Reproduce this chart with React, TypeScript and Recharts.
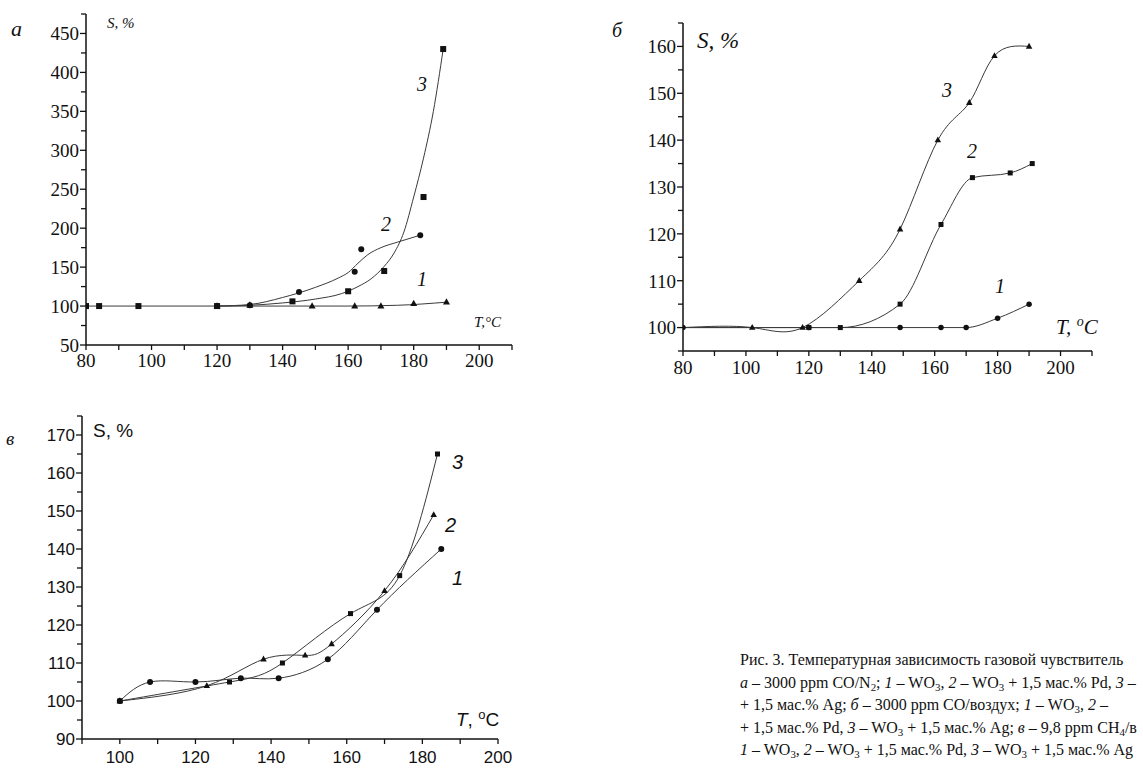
import React from "react";
import { ComposedChart, Line, XAxis, YAxis } from "recharts";

type P = [number, number];

// panel а: 3000 ppm CO/N2
const aTriangles: P[] = [[120, 100], [130, 101], [149, 100], [162, 100], [170, 100], [180, 103], [190, 105]];
const aCircles: P[] = [[120, 100], [130, 101], [145, 118], [162, 144], [164, 173], [182, 191]];
const aSquares: P[] = [[80, 100], [84, 100], [96, 100], [120, 100], [143, 106], [160, 119], [171, 145], [183, 240], [189, 430]];
const aFit1: P[] = [[80, 100], [160, 100], [175, 101], [190, 105]];
const aFit2: P[] = [[120, 100], [130, 102], [140, 111], [150, 124], [157, 136], [160, 143], [163, 155], [166, 166], [170, 175], [175, 182], [182, 191]];
const aFit3: P[] = [[120, 100], [130, 101], [140, 104], [150, 109], [158, 116], [163, 125], [167, 135], [171, 151], [174, 168], [177, 195], [180, 240], [183, 290], [186, 350], [189, 430]];

// panel б: 3000 ppm CO/воздух
const bCircles: P[] = [[80, 100], [120, 100], [149, 100], [162, 100], [170, 100], [180, 102], [190, 105]];
const bSquares: P[] = [[120, 100], [130, 100], [149, 105], [162, 122], [172, 132], [184, 133], [191, 135]];
const bTriangles: P[] = [[102, 100], [118, 100], [136, 110], [149, 121], [161, 140], [171, 148], [179, 158], [190, 160]];
const bStart: P = [80, 100];

// panel в: 9,8 ppm CH4/воздух
const cCircles: P[] = [[100, 100], [108, 105], [120, 105], [132, 106], [142, 106], [155, 111], [168, 124], [185, 140]];
const cTriangles: P[] = [[100, 100], [123, 104], [138, 111], [149, 112], [156, 115], [170, 129], [183, 149]];
const cSquares: P[] = [[100, 100], [129, 105], [143, 110], [161, 123], [174, 133], [184, 165]];

// ticks
const abXMajor = [80, 100, 120, 140, 160, 180, 200];
const abXMinor = [90, 110, 130, 150, 170, 190, 210];
const aYMajor = [50, 100, 150, 200, 250, 300, 350, 400, 450];
const aYMinor = [75, 125, 175, 225, 275, 325, 375, 425, 475];
const bYMajor = [100, 110, 120, 130, 140, 150, 160];
const bYMinor = [95, 105, 115, 125, 135, 145, 155, 165];
const cXMajor = [100, 120, 140, 160, 180, 200];
const cXMinor = [90, 110, 130, 150, 170, 190];
const cYMajor = [90, 100, 110, 120, 130, 140, 150, 160, 170];
const cYMinor = [95, 105, 115, 125, 135, 145, 155, 165, 175];

const SERIF = "Liberation Serif, Times New Roman, serif";
const SANS = "Liberation Sans, Arial, sans-serif";
const INK = "#111";
const CURVE = "#3a3a3a";

const rows = (pts: P[]) => pts.map(([x, y]) => ({ x, y }));

type Shape = "square" | "circle" | "triangle";

const marker = (shape: Shape, s: number) => (p: any) => {
  const { cx, cy, index } = p;
  if (cx == null || cy == null) return <g key={index} />;
  if (shape === "square")
    return <rect key={index} x={cx - s / 2} y={cy - s / 2} width={s} height={s} fill={INK} />;
  if (shape === "circle") return <circle key={index} cx={cx} cy={cy} r={s / 2} fill={INK} />;
  const h = s * 0.9;
  return (
    <polygon
      key={index}
      points={`${cx},${cy - h * 0.62} ${cx - s / 2},${cy + h * 0.38} ${cx + s / 2},${cy + h * 0.38}`}
      fill={INK}
    />
  );
};

const yTick = (majors: number[], font: string, size: number) => (p: any) => {
  const { x, y, payload } = p;
  const major = majors.includes(payload.value);
  return (
    <g>
      <line x1={x - (major ? 6 : 5)} x2={x} y1={y} y2={y} stroke={INK} strokeWidth={1.3} />
      {major && (
        <text
          x={x - 7}
          y={y}
          dy="0.36em"
          textAnchor="end"
          fill={INK}
          style={{ fontFamily: font, fontSize: size }}
        >
          {payload.value}
        </text>
      )}
    </g>
  );
};

const xTick = (majors: number[], font: string, size: number, off: number) => (p: any) => {
  const { x, y, payload } = p;
  const major = majors.includes(payload.value);
  return (
    <g>
      <line x1={x} x2={x} y1={y} y2={y + 5} stroke={INK} strokeWidth={1.3} />
      {major && (
        <text x={x} y={y + off} textAnchor="middle" fill={INK} style={{ fontFamily: font, fontSize: size }}>
          {payload.value}
        </text>
      )}
    </g>
  );
};

type Panel = {
  left: number;
  top: number;
  width: number;
  height: number;
  margin: { top: number; right: number; bottom: number; left: number };
  xDomain: [number, number];
  yDomain: [number, number];
  xMajor: number[];
  xMinor: number[];
  yMajor: number[];
  yMinor: number[];
  face: string;
  size: number;
  xOff: number;
  children: React.ReactNode;
};

function Frame(p: Panel) {
  const xt = [...p.xMajor, ...p.xMinor].sort((a, b) => a - b);
  const yt = [...p.yMajor, ...p.yMinor].sort((a, b) => a - b);
  return (
    <div style={{ position: "absolute", left: p.left, top: p.top, fontFamily: p.face }}>
      <ComposedChart width={p.width} height={p.height} margin={p.margin} style={{ fontFamily: p.face }}>
        <XAxis
          type="number"
          dataKey="x"
          domain={p.xDomain}
          ticks={xt}
          interval={0}
          tickSize={0}
          tickMargin={0}
          tickLine={false}
          tick={xTick(p.xMajor, p.face, p.size, p.xOff)}
          axisLine={{ stroke: INK, strokeWidth: 1.5 }}
          height={30}
          allowDataOverflow
        />
        <YAxis
          type="number"
          dataKey="y"
          domain={p.yDomain}
          ticks={yt}
          interval={0}
          tickSize={0}
          tickMargin={0}
          tickLine={false}
          tick={yTick(p.yMajor, p.face, p.size)}
          axisLine={{ stroke: INK, strokeWidth: 1.5 }}
          width={50}
          allowDataOverflow
        />
        {p.children}
      </ComposedChart>
    </div>
  );
}

const fit = (pts: P[], type: "monotone" | "natural", key: string) => (
  <Line
    key={key}
    data={rows(pts)}
    dataKey="y"
    type={type}
    stroke={CURVE}
    strokeWidth={1}
    dot={false}
    activeDot={false}
    isAnimationActive={false}
  />
);

const marks = (pts: P[], shape: Shape, s: number, key: string) => (
  <Line
    key={key}
    data={rows(pts)}
    dataKey="y"
    stroke="none"
    dot={marker(shape, s)}
    activeDot={false}
    isAnimationActive={false}
  />
);

function Overlay() {
  const it = { fontFamily: SERIF, fontStyle: "italic" as const, fill: INK };
  const sit = { fontFamily: SANS, fontStyle: "italic" as const, fill: INK };
  return (
    <svg width={1143} height={769} style={{ position: "absolute", left: 0, top: 0, pointerEvents: "none" }}>
      {/* а */}
      <text x={11} y={36} fontSize={22} {...it}>а</text>
      <text x={107} y={28} fontSize={15} {...it}>S, %</text>
      <text x={474} y={327} fontSize={15} {...it}>T,°C</text>
      <text x={417} y={91} fontSize={20} {...it}>3</text>
      <text x={381} y={231} fontSize={20} {...it}>2</text>
      <text x={417} y={286} fontSize={20} {...it}>1</text>
      {/* б */}
      <text x={612} y={37} fontSize={20} {...it}>б</text>
      <text x={697} y={48} fontSize={23} {...it}>S, %</text>
      <text x={1056} y={334} fontSize={21} {...it}>
        T, <tspan dy={-8} fontSize={14}>o</tspan>
        <tspan dy={8}>C</tspan>
      </text>
      <text x={942} y={97} fontSize={20} {...it}>3</text>
      <text x={967} y={158} fontSize={20} {...it}>2</text>
      <text x={995} y={293} fontSize={20} {...it}>1</text>
      {/* в */}
      <text x={6} y={445} fontSize={19} {...it}>в</text>
      <text x={93} y={437} fontSize={19} fontFamily={SANS} fill={INK}>S, %</text>
      <text x={456} y={726} fontSize={19} fontFamily={SANS} fill={INK}>
        <tspan fontStyle="italic">T</tspan>, <tspan dy={-7} fontSize={13}>o</tspan>
        <tspan dy={7}>C</tspan>
      </text>
      <text x={452} y={469} fontSize={20} {...sit}>3</text>
      <text x={445} y={532} fontSize={20} {...sit}>2</text>
      <text x={452} y={585} fontSize={20} {...sit}>1</text>
    </svg>
  );
}

const sub = (t: string) => <sub style={{ fontSize: "0.68em", lineHeight: 0, verticalAlign: "-0.28em" }}>{t}</sub>;

function Caption() {
  const line = (top: number, body: React.ReactNode) => (
    <div
      style={{
        position: "absolute",
        left: 740,
        top,
        whiteSpace: "nowrap",
        fontFamily: SERIF,
        fontSize: 16,
        lineHeight: "22px",
        color: INK,
      }}
    >
      {body}
    </div>
  );
  return (
    <>
      {line(649, <>Рис. 3. Температурная зависимость газовой чувствитель</>)}
      {line(672, <><i>а</i> – 3000 ppm CO/N{sub("2")}; <i>1</i> – WO{sub("3")}, <i>2</i> – WO{sub("3")} + 1,5 мас.% Pd, <i>3</i> –</>)}
      {line(694, <>+ 1,5 мас.% Ag; <i>б</i> – 3000 ppm CO/воздух; <i>1</i> – WO{sub("3")}, <i>2</i> –</>)}
      {line(717, <>+ 1,5 мас.% Pd, <i>3</i> – WO{sub("3")} + 1,5 мас.% Ag; <i>в</i> – 9,8 ppm CH{sub("4")}/в</>)}
      {line(739, <><i>1</i> – WO{sub("3")}, <i>2</i> – WO{sub("3")} + 1,5 мас.% Pd, <i>3</i> – WO{sub("3")} + 1,5 мас.% Ag</>)}
    </>
  );
}

export default function App() {
  return (
    <div style={{ position: "absolute", left: 0, top: 0, width: 1143, height: 769, overflow: "hidden", background: "#fff" }}>
      <Frame
        left={0}
        top={0}
        width={540}
        height={380}
        margin={{ top: 14, right: 28, bottom: 5, left: 36 }}
        xDomain={[80, 210]}
        yDomain={[50, 475]}
        xMajor={abXMajor}
        xMinor={abXMinor}
        yMajor={aYMajor}
        yMinor={aYMinor}
        face={SERIF}
        size={19}
        xOff={22}
      >
        {fit(aFit1, "monotone", "f1")}
        {fit(aFit2, "monotone", "f2")}
        {fit(aFit3, "monotone", "f3")}
        {marks(aTriangles, "triangle", 7, "m1")}
        {marks(aCircles, "circle", 6, "m2")}
        {marks(aSquares, "square", 6, "m3")}
      </Frame>
      <Frame
        left={600}
        top={0}
        width={540}
        height={390}
        margin={{ top: 23, right: 48, bottom: 9, left: 33 }}
        xDomain={[80, 210]}
        yDomain={[95, 165]}
        xMajor={abXMajor}
        xMinor={abXMinor}
        yMajor={bYMajor}
        yMinor={bYMinor}
        face={SERIF}
        size={19}
        xOff={23}
      >
        {fit(bCircles, "monotone", "f1")}
        {fit([bStart, ...bSquares], "monotone", "f2")}
        {fit([bStart, ...bTriangles], "natural", "f3")}
        {marks(bCircles, "circle", 5.5, "m1")}
        {marks(bSquares, "square", 5, "m2")}
        {marks(bTriangles, "triangle", 6.5, "m3")}
      </Frame>
      <Frame
        left={0}
        top={400}
        width={540}
        height={369}
        margin={{ top: 16, right: 42, bottom: 0, left: 32 }}
        xDomain={[90, 200]}
        yDomain={[90, 175]}
        xMajor={cXMajor}
        xMinor={cXMinor}
        yMajor={cYMajor}
        yMinor={cYMinor}
        face={SANS}
        size={17}
        xOff={24}
      >
        {fit(cCircles, "natural", "f1")}
        {fit(cTriangles, "natural", "f2")}
        {fit(cSquares, "natural", "f3")}
        {marks(cCircles, "circle", 6, "m1")}
        {marks(cTriangles, "triangle", 6.5, "m2")}
        {marks(cSquares, "square", 5, "m3")}
      </Frame>
      <Overlay />
      <Caption />
    </div>
  );
}
